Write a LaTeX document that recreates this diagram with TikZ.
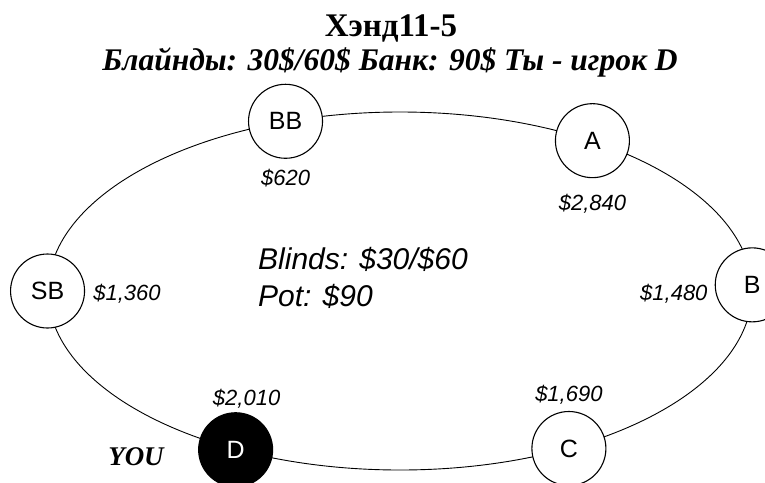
\documentclass[tikz,border=0pt]{standalone}
\usepackage{fontspec}
\setmainfont{Liberation Serif}
\setsansfont{Liberation Sans}
\usetikzlibrary{positioning,shapes.geometric}

\begin{document}
\begin{tikzpicture}[
x=1pt,y=-1pt,
seat/.style={draw,circle,fill=white,line width=1.1pt,minimum size=74pt,inner sep=0pt,font=\sffamily\fontsize{25}{30}\selectfont},
you/.style={seat,fill=black,text=white},
chips/.style={inner sep=0pt,font=\sffamily\itshape\fontsize{22}{26}\selectfont}
]
\useasboundingbox (0,0) rectangle (765,482);
\node[anchor=base,inner sep=0pt,font=\bfseries\fontsize{33}{38}\selectfont] (title) at (391,36) {Хэнд11-5};
\node[anchor=base,inner sep=0pt,font=\bfseries\itshape\fontsize{31.5}{38}\selectfont] (sub) at (390,70) {Блайнды: 30\$/60\$ Банк: 90\$ Ты - игрок D};

% table and seats
\node[draw,ellipse,line width=0.9pt,minimum width=704pt,minimum height=358pt] (table) at (400,291) {};
\node[seat] (bb) at (table.124) {BB};
\node[seat] (a) at (table.38) {A};
\node[seat] (b) at (table.1) {B};
\node[seat] (c) at (table.-43) {C};
\node[you] (d) at (table.-136) {D};
\node[seat] (sb) at (table.180) {SB};

% stacks
\node[chips,below=10pt of bb] (bbc) {\$620};
\node[chips,below=16pt of a] (ac) {\$2,840};
\node[chips,left=7pt of b,yshift=-9pt] (bc) {\$1,480};
\node[chips,above=6pt of c] (cc) {\$1,690};
\node[chips,above=4pt of d,xshift=11pt] (dc) {\$2,010};
\node[chips,right=8pt of sb,yshift=-3pt] (sbc) {\$1,360};
\node[font=\bfseries\itshape\fontsize{27}{32}\selectfont] (me) at (136,457) {YOU};

\node[anchor=west,align=left,inner sep=0pt,font=\sffamily\itshape\fontsize{30}{37}\selectfont] (pot) at (258,278) {Blinds: \$30/\$60\\Pot: \$90};
\end{tikzpicture}
\end{document}
